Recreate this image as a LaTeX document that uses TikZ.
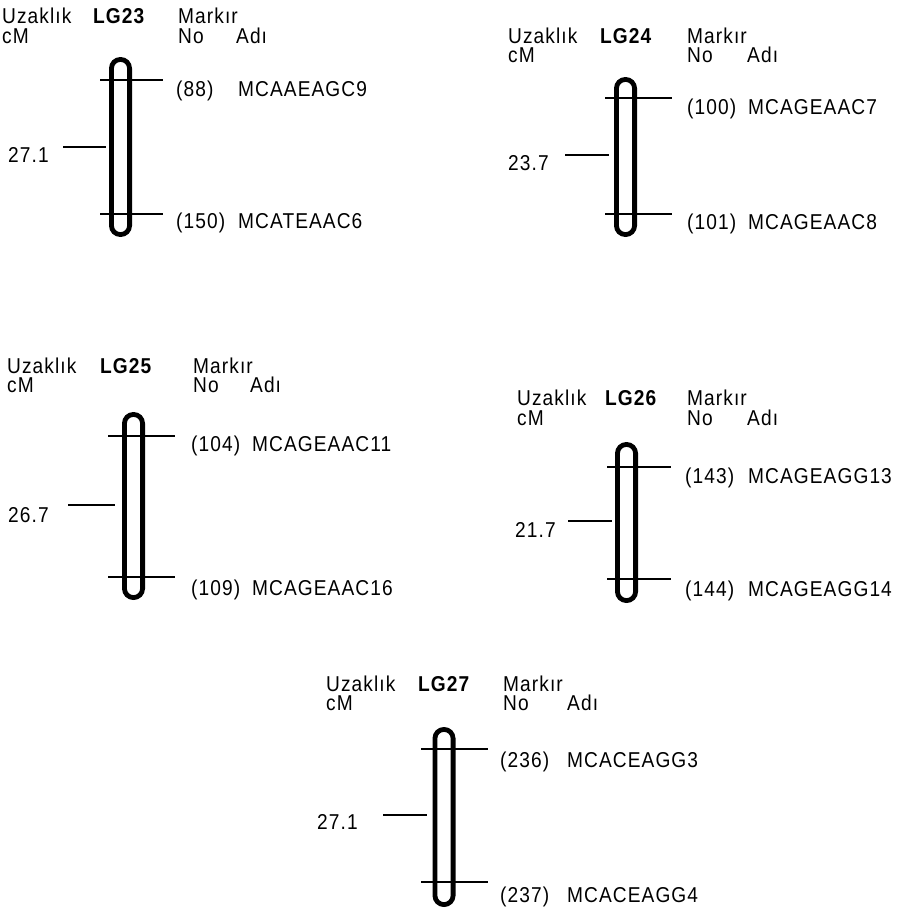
\documentclass[tikz,border=0pt]{standalone}
\usepackage{fontspec}
\setmainfont{Liberation Sans}[FakeStretch=0.89,LetterSpace=5]
\begin{document}
\begin{tikzpicture}[x=1pt,y=-1pt,
  lbl/.style={anchor=base west, inner sep=0pt, font=\fontsize{21.5}{22}\selectfont},
  lgname/.style={lbl, font=\fontsize{21.5}{22}\selectfont\bfseries},
  chrom/.style={draw, line width=4.8pt, rounded corners=9.1pt, inner sep=0pt, minimum width=18.2pt},
  tick/.style={line width=1.3pt}]
\useasboundingbox (0,0) rectangle (897,910);

% ---------- LG23 ----------
\node[lbl] (u23) at (2,23.5) {Uzaklık};
\node[lbl] (cm23) at (2,43) {cM};
\node[lgname] (n23) at (93,23.5) {LG23};
\node[lbl] (mk23) at (178,23.5) {Markır};
\node[lbl] (no23) at (178,43) {No};
\node[lbl] (ad23) at (236,43) {Adı};
\node[chrom, minimum height=175.2pt] (c23) at (120.5,147) {};
\coordinate (a23l) at (100,80); \coordinate (a23r) at (163,80);
\coordinate (b23l) at (100,214); \coordinate (b23r) at (163,214);
\coordinate (d23l) at (63,147); \coordinate (d23r) at (106,147);
\draw[tick] (a23l) -- (a23r);
\draw[tick] (b23l) -- (b23r);
\draw[tick] (d23l) -- (d23r);
\node[lbl] (p23a) at (176,96.5) {(88)};
\node[lbl] (q23a) at (238,96.5) {MCAAEAGC9};
\node[lbl] (p23b) at (176,228) {(150)};
\node[lbl] (q23b) at (238,228) {MCATEAAC6};
\node[lbl] (d23) at (8,162.5) {27.1};

% ---------- LG24 ----------
\node[lbl] (u24) at (508,43) {Uzaklık};
\node[lbl] (cm24) at (508,62.5) {cM};
\node[lgname] (n24) at (600,43) {LG24};
\node[lbl] (mk24) at (687,43) {Markır};
\node[lbl] (no24) at (687,62.5) {No};
\node[lbl] (ad24) at (747,62.5) {Adı};
\node[chrom, minimum height=155.2pt] (c24) at (625.5,157) {};
\coordinate (a24l) at (605,98); \coordinate (a24r) at (672,98);
\coordinate (b24l) at (605,214); \coordinate (b24r) at (672,214);
\coordinate (d24l) at (565,155); \coordinate (d24r) at (609,155);
\draw[tick] (a24l) -- (a24r);
\draw[tick] (b24l) -- (b24r);
\draw[tick] (d24l) -- (d24r);
\node[lbl] (p24a) at (687,114.5) {(100)};
\node[lbl] (q24a) at (748,114.5) {MCAGEAAC7};
\node[lbl] (p24b) at (687,229.5) {(101)};
\node[lbl] (q24b) at (748,229.5) {MCAGEAAC8};
\node[lbl] (d24) at (508,170.5) {23.7};

% ---------- LG25 ----------
\node[lbl] (u25) at (7,373) {Uzaklık};
\node[lbl] (cm25) at (7,392.5) {cM};
\node[lgname] (n25) at (100,373) {LG25};
\node[lbl] (mk25) at (193,373) {Markır};
\node[lbl] (no25) at (193,392.5) {No};
\node[lbl] (ad25) at (250,392.5) {Adı};
\node[chrom, minimum height=183.2pt] (c25) at (133.5,506) {};
\coordinate (a25l) at (108,436); \coordinate (a25r) at (175,436);
\coordinate (b25l) at (108,577); \coordinate (b25r) at (175,577);
\coordinate (d25l) at (68,505); \coordinate (d25r) at (115,505);
\draw[tick] (a25l) -- (a25r);
\draw[tick] (b25l) -- (b25r);
\draw[tick] (d25l) -- (d25r);
\node[lbl] (p25a) at (191,451.5) {(104)};
\node[lbl] (q25a) at (252,451.5) {MCAGEAAC11};
\node[lbl] (p25b) at (191,595.5) {(109)};
\node[lbl] (q25b) at (252,595.5) {MCAGEAAC16};
\node[lbl] (d25) at (8,522.5) {26.7};

% ---------- LG26 ----------
\node[lbl] (u26) at (517,405.5) {Uzaklık};
\node[lbl] (cm26) at (517,425) {cM};
\node[lgname] (n26) at (605,405.5) {LG26};
\node[lbl] (mk26) at (687,405.5) {Markır};
\node[lbl] (no26) at (687,425) {No};
\node[lbl] (ad26) at (747,425) {Adı};
\node[chrom, minimum height=156.2pt] (c26) at (626.5,522.5) {};
\coordinate (a26l) at (607,467); \coordinate (a26r) at (671,467);
\coordinate (b26l) at (607,579); \coordinate (b26r) at (671,579);
\coordinate (d26l) at (568,521); \coordinate (d26r) at (612,521);
\draw[tick] (a26l) -- (a26r);
\draw[tick] (b26l) -- (b26r);
\draw[tick] (d26l) -- (d26r);
\node[lbl] (p26a) at (685,483.5) {(143)};
\node[lbl] (q26a) at (748,483.5) {MCAGEAGG13};
\node[lbl] (p26b) at (685,596.5) {(144)};
\node[lbl] (q26b) at (748,596.5) {MCAGEAGG14};
\node[lbl] (d26) at (515,537.5) {21.7};

% ---------- LG27 ----------
\node[lbl] (u27) at (326,691) {Uzaklık};
\node[lbl] (cm27) at (326,710.5) {cM};
\node[lgname] (n27) at (418,691) {LG27};
\node[lbl] (mk27) at (503,691) {Markır};
\node[lbl] (no27) at (503,710.5) {No};
\node[lbl] (ad27) at (567,710.5) {Adı};
\node[chrom, minimum height=175.2pt] (c27) at (444,817) {};
\coordinate (a27l) at (421,749); \coordinate (a27r) at (488,749);
\coordinate (b27l) at (421,882); \coordinate (b27r) at (488,882);
\coordinate (d27l) at (383,815); \coordinate (d27r) at (427,815);
\draw[tick] (a27l) -- (a27r);
\draw[tick] (b27l) -- (b27r);
\draw[tick] (d27l) -- (d27r);
\node[lbl] (p27a) at (500,767.5) {(236)};
\node[lbl] (q27a) at (567,767.5) {MCACEAGG3};
\node[lbl] (p27b) at (500,902.5) {(237)};
\node[lbl] (q27b) at (567,902.5) {MCACEAGG4};
\node[lbl] (d27) at (317,829.5) {27.1};
\end{tikzpicture}
\end{document}
